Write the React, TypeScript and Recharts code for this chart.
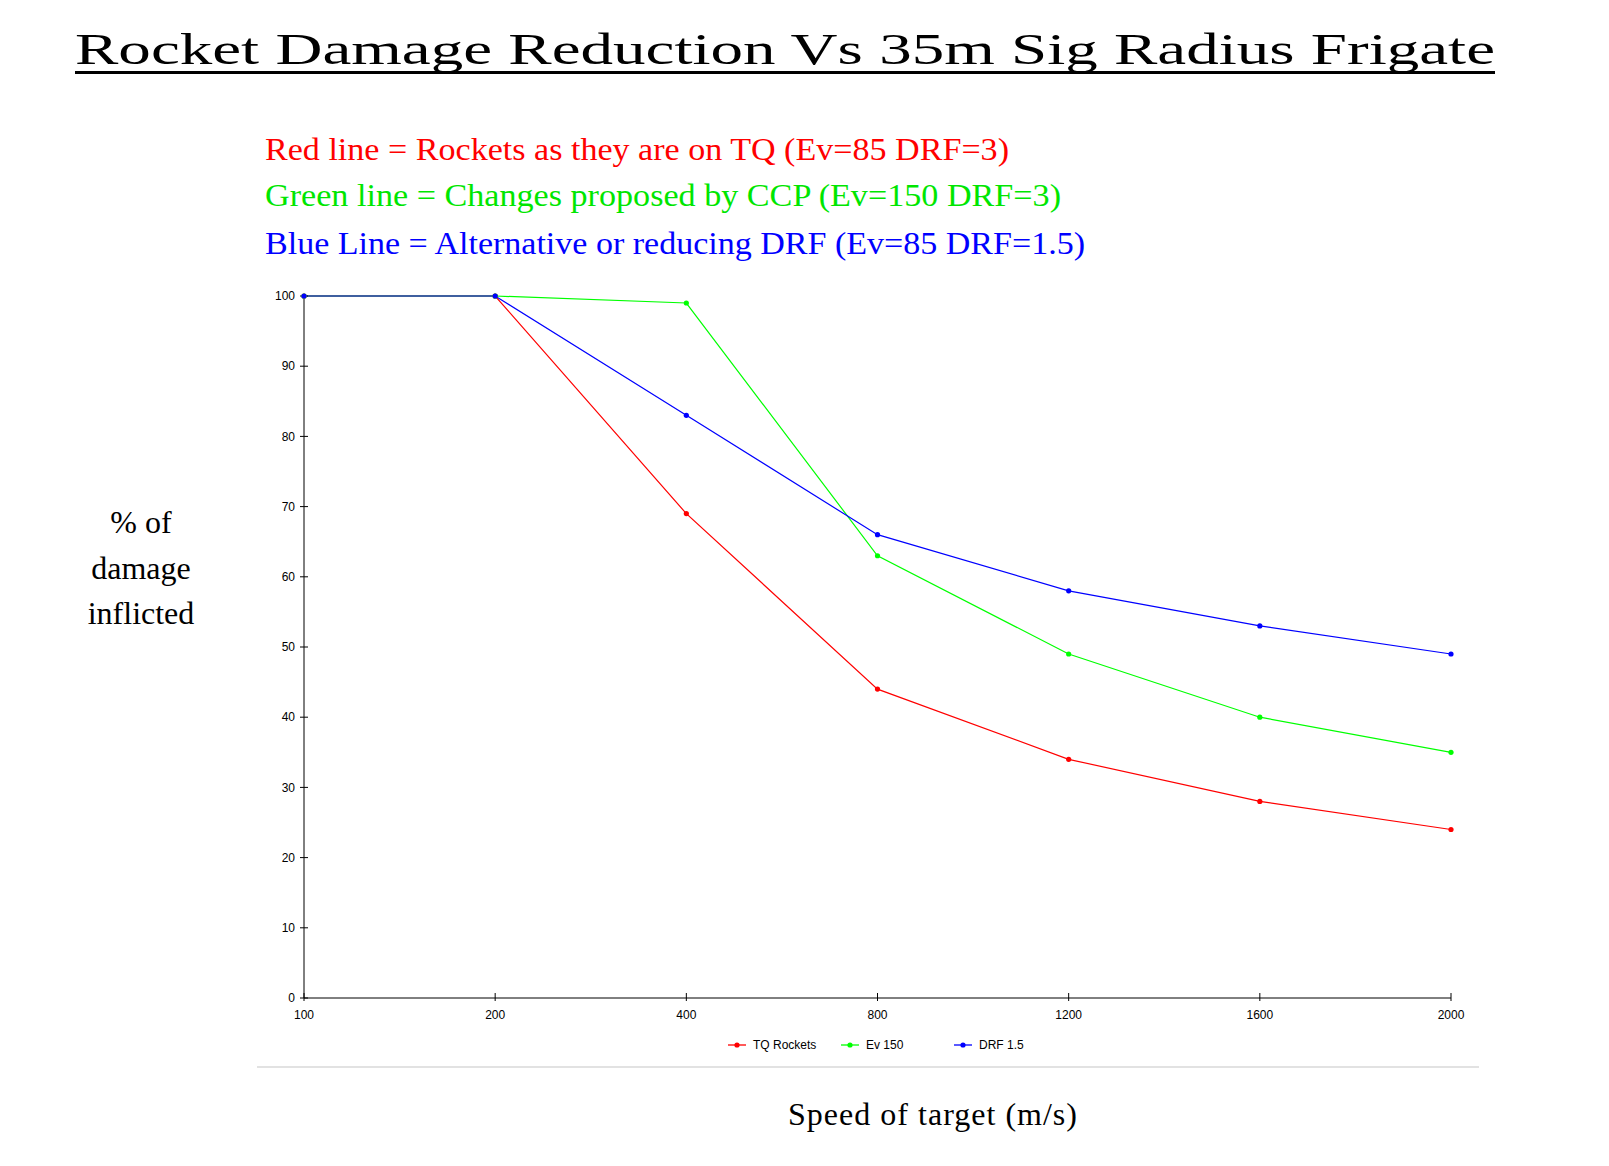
import { LineChart, Line, XAxis, YAxis, Legend } from "recharts";

const speeds = ["100", "200", "400", "800", "1200", "1600", "2000"];
const tqRockets = [100, 100, 69, 44, 34, 28, 24];
const ev150 = [100, 100, 99, 63, 49, 40, 35];
const drf15 = [100, 100, 83, 66, 58, 53, 49];
const yTicks = [0, 10, 20, 30, 40, 50, 60, 70, 80, 90, 100];

const series = [
  { key: "tq", name: "TQ Rockets", color: "#ff0000" },
  { key: "ev", name: "Ev 150", color: "#00ff00" },
  { key: "drf", name: "DRF 1.5", color: "#0000ff" },
];

const notes = [
  { text: "Red line = Rockets as they are on TQ (Ev=85 DRF=3)", color: "#ff0000", y: 152, len: 744 },
  { text: "Green line = Changes proposed by CCP (Ev=150 DRF=3)", color: "#00e600", y: 198, len: 796 },
  { text: "Blue Line = Alternative or reducing DRF (Ev=85 DRF=1.5)", color: "#0000ff", y: 246, len: 820 },
];

const data = speeds.map((s, i) => ({
  speed: s,
  tq: tqRockets[i],
  ev: ev150[i],
  drf: drf15[i],
}));

const W = 1593;
const H = 1150;
const serif = "'Liberation Serif', 'Times New Roman', serif";
const sans = "'Liberation Sans', Arial, sans-serif";

const LegendContent = () => (
  <div style={{ display: "flex", fontFamily: sans, fontSize: 12, color: "#000" }}>
    {series.map((s) => (
      <div key={s.key} style={{ width: 113, display: "flex", alignItems: "center", height: 24 }}>
        <svg width={18} height={10} style={{ marginRight: 7 }}>
          <line x1={0} y1={5} x2={18} y2={5} stroke={s.color} strokeWidth={1.3} />
          <circle cx={9} cy={5} r={2.6} fill={s.color} />
        </svg>
        <span>{s.name}</span>
      </div>
    ))}
  </div>
);

export default function App() {
  return (
    <div style={{ position: "relative", width: W, height: H, background: "#fff" }}>
      <svg
        width={W}
        height={H}
        style={{ position: "absolute", left: 0, top: 0, pointerEvents: "none" }}
      >
        <text
          x={67}
          y={56}
          fontFamily={serif}
          fontSize={44}
          textLength={1420}
          lengthAdjust="spacingAndGlyphs"
          fill="#000"
        >
          Rocket Damage Reduction Vs 35m Sig Radius Frigate
        </text>
        <rect x={67} y={63} width={1420} height={3} fill="#000" />
        {notes.map((n) => (
          <text
            key={n.text}
            x={257}
            y={n.y}
            fontFamily={serif}
            fontSize={32}
            textLength={n.len}
            lengthAdjust="spacingAndGlyphs"
            fill={n.color}
          >
            {n.text}
          </text>
        ))}
        <g fontFamily={serif} fontSize={32} fill="#000" textAnchor="middle">
          <text x={133} y={525}>% of</text>
          <text x={133} y={571}>damage</text>
          <text x={133} y={616}>inflicted</text>
        </g>
        <text
          x={780}
          y={1117}
          fontFamily={serif}
          fontSize={32}
          textLength={289}
          lengthAdjust="spacing"
          fill="#000"
        >
          Speed of target (m/s)
        </text>
        <rect x={249} y={1058} width={1222} height={2} fill="#e2e2e2" />
      </svg>
      <LineChart
        width={W}
        height={H}
        data={data}
        margin={{ top: 288, right: 150, bottom: 125, left: 236 }}
      >
        <XAxis
          dataKey="speed"
          height={35}
          stroke="#000"
          tickSize={8}
          tickMargin={4}
          tickLine={{ stroke: "#000", transform: "translate(0,-5)" }}
          tick={{ fill: "#000", fontSize: 12, fontFamily: sans }}
        />
        <YAxis
          width={60}
          domain={[0, 100]}
          ticks={yTicks}
          stroke="#000"
          tickSize={8}
          tickMargin={1}
          tickLine={{ stroke: "#000", transform: "translate(4,0)" }}
          tick={{ fill: "#000", fontSize: 12, fontFamily: sans }}
        />
        <Legend
          layout="horizontal"
          verticalAlign="middle"
          align="center"
          wrapperStyle={{ top: 1025, left: 720, width: 360, height: 24 }}
          content={<LegendContent />}
        />
        {series.map((s) => (
          <Line
            key={s.key}
            type="linear"
            dataKey={s.key}
            name={s.name}
            stroke={s.color}
            strokeWidth={1.2}
            dot={{ r: 2.6, fill: s.color, stroke: "none" }}
            activeDot={false}
            isAnimationActive={false}
          />
        ))}
      </LineChart>
    </div>
  );
}
